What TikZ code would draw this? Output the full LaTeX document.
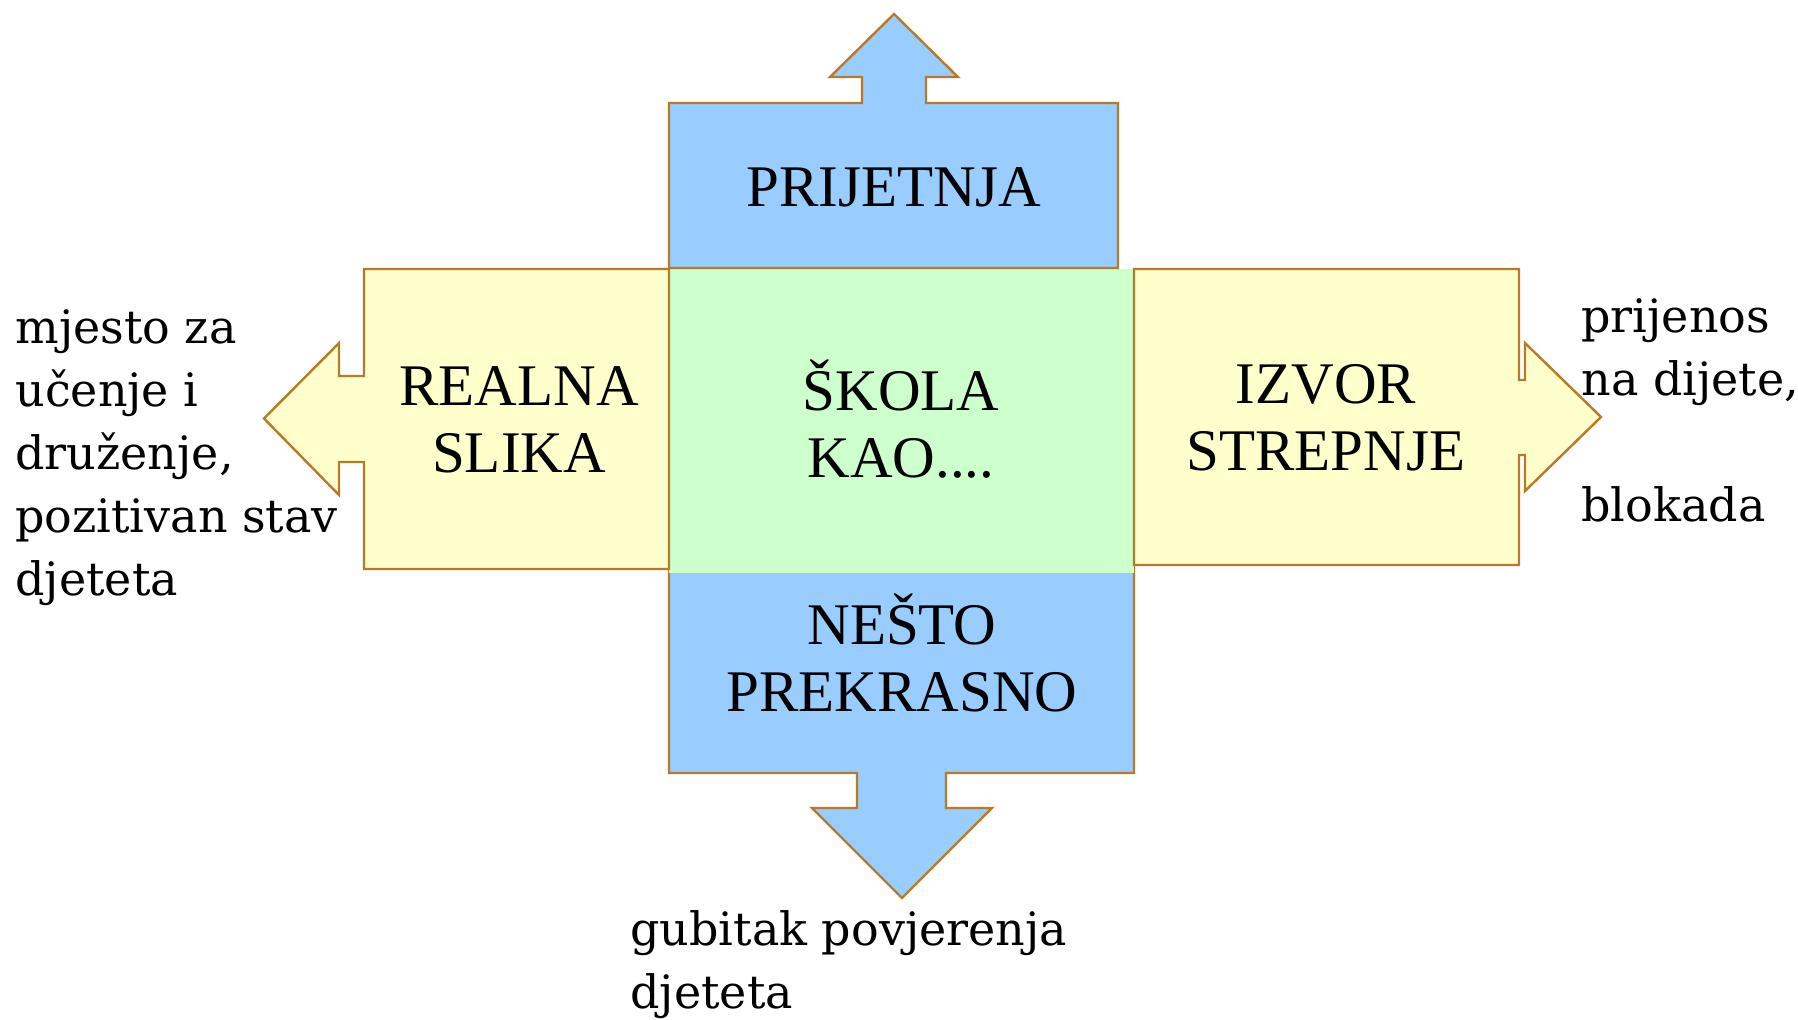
\documentclass[tikz,border=0pt]{standalone}
\usepackage{fontspec}
\setmainfont{Liberation Serif}
\newfontfamily\sidefont{DejaVu Serif}
\usepackage{tikz}
\definecolor{boxblue}{RGB}{153,204,255}
\definecolor{boxyellow}{RGB}{255,255,204}
\definecolor{boxgreen}{RGB}{204,255,204}
\definecolor{edgebrown}{RGB}{184,122,38}

\begin{document}
\begin{tikzpicture}[x=0.5pt, y=-0.5pt,
  bluepart/.style={fill=boxblue, draw=edgebrown, line width=1.2pt},
  yellowpart/.style={fill=boxyellow, draw=edgebrown, line width=1.2pt},
  boxtext/.style={font=\fontsize{29.5}{33.5}\selectfont, align=center, anchor=base, inner sep=0pt},
  sidetext/.style={font=\sidefont\fontsize{23}{31.5}\selectfont, align=left, anchor=base west, inner sep=0pt}]
\useasboundingbox (0,0) rectangle (1798,1019);
\filldraw [bluepart] (669,560) -- (1134,560) -- (1134,773) -- (946,773) -- (946,808) -- (992,808) -- (902,898) -- (812,808) -- (857,808) -- (857,773) -- (669,773) -- cycle;
\fill [boxgreen] (669,269) rectangle (1134,573);
\filldraw [bluepart] (669,268) -- (669,103) -- (862,103) -- (862,77) -- (830,77) -- (894,14) -- (958,77) -- (926,77) -- (926,103) -- (1118,103) -- (1118,268) -- cycle;
\filldraw [yellowpart] (669,269) -- (364,269) -- (364,376) -- (339,376) -- (339,343) -- (264,418.5) -- (339,495) -- (339,462) -- (364,462) -- (364,569) -- (669,569) -- cycle;
\filldraw [yellowpart] (1134,269) -- (1519,269) -- (1519,380) -- (1525,380) -- (1525,343) -- (1601,417) -- (1525,491) -- (1525,455) -- (1519,455) -- (1519,565) -- (1134,565) -- cycle;
\node at (894,206) [boxtext] (threat) {PRIJETNJA};
\node at (901,477) [boxtext] (school) {ŠKOLA\\KAO....};
\node at (519,472.7) [boxtext] (real) {REALNA\\SLIKA};
\node at (1326,470.7) [boxtext] (source) {IZVOR\\STREPNJE};
\node at (902,711) [boxtext] (wonder) {NEŠTO\\PREKRASNO};
\node at (15,595) [sidetext] (learning) {mjesto za\\učenje i\\druženje,\\pozitivan stav\\djeteta};
\node at (1581,521.7) [sidetext] (transfer) {prijenos\\na dijete,\\[31.5pt]blokada};
\node at (630,1008.3) [sidetext] (trust) {gubitak povjerenja\\djeteta};
\end{tikzpicture}
\end{document}
